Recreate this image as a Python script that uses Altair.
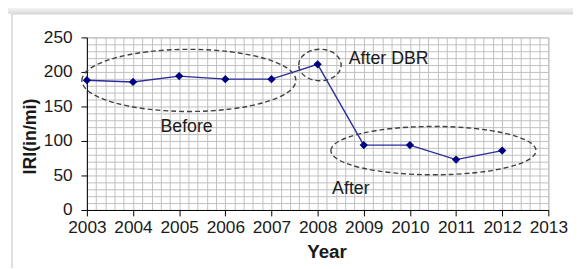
import altair as alt
import pandas as pd

# ---- data ----
years = [2003, 2004, 2005, 2006, 2007, 2008, 2009, 2010, 2011, 2012]
iri = [188, 185.5, 194, 189.5, 189.5, 211, 94, 94, 73, 86]

x_grid = [round(2003 + i * 0.2, 1) for i in range(51)]
y_grid = list(range(0, 251, 10))

note_text = ["Before", "After DBR", "After"]
note_x = [2005.16, 2009.54, 2008.72]
note_y = [119.5, 219, 31]

ell_x = [2005.21, 2008.05, 2010.51]
ell_y = [187.7, 210, 86]

FONT = "Liberation Sans"

df = pd.DataFrame({"year": years, "iri": iri})
notes = pd.DataFrame({"year": note_x, "iri": note_y, "text": note_text})
one = pd.DataFrame({"a": [0]})

xscale = alt.Scale(domain=[2003, 2013], nice=False, zero=False)
yscale = alt.Scale(domain=[0, 250], nice=False, zero=True)

xaxis = alt.Axis(
    values=x_grid,
    labelExpr="datum.value % 1 === 0 ? format(datum.value, 'd') : ''",
    labelOverlap=False, labelFlush=False,
    labelFont=FONT, labelFontSize=17.5, labelColor="#1a1a1a", labelPadding=3,
    tickOpacity=alt.condition("datum.value % 1 === 0", alt.value(1), alt.value(0)),
    tickColor="black", tickSize=6,
    domainColor="black", domainWidth=1,
    grid=True, gridColor="#c0c0c0", gridWidth=1,
    title="Year", titleFont=FONT, titleFontSize=19, titleFontWeight="bold",
    titleColor="#1a1a1a", titleX=243, titleY=33, titleAlign="center", titleBaseline="top",
)
yaxis = alt.Axis(
    values=y_grid,
    labelExpr="datum.value % 50 === 0 ? format(datum.value, 'd') : ''",
    labelOverlap=False, labelFlush=False,
    labelFont=FONT, labelFontSize=17.5, labelColor="#1a1a1a", labelPadding=9,
    tickOpacity=alt.condition("datum.value % 50 === 0", alt.value(1), alt.value(0)),
    tickColor="black", tickSize=6,
    domainColor="black", domainWidth=1,
    grid=True, gridColor="#c0c0c0", gridWidth=1,
    title="IRI(in/mi)", titleFont=FONT, titleFontSize=18, titleFontWeight="bold",
    titleColor="#1a1a1a", titleAngle=270, titleX=-57, titleY=100,
    titleAlign="center", titleBaseline="middle",
)

X = alt.X("year:Q", scale=xscale, axis=xaxis)
Y = alt.Y("iri:Q", scale=yscale, axis=yaxis)

# outer frame of the figure
band = alt.Chart(one).mark_rect(
    fill=alt.LinearGradient(
        gradient="linear", x1=0, y1=0, x2=0, y2=1,
        stops=[alt.GradientStop(color="#f4f4f4", offset=0),
               alt.GradientStop(color="#dcdcdc", offset=1)],
    )
).encode(x=alt.value(-90), x2=alt.value(700), y=alt.value(-30), y2=alt.value(-24))
frame = alt.Chart(one).mark_rect(fillOpacity=0, stroke="#d6d6d6", strokeWidth=1.5).encode(
    x=alt.value(-76), x2=alt.value(700), y=alt.value(-24), y2=alt.value(400)
)

line = alt.Chart(df).mark_line(color="#2b2b9e", strokeWidth=1.4).encode(x=X, y=Y)
pts = alt.Chart(df).mark_point(shape="diamond", filled=True, color="#000080", size=70, opacity=1).encode(x=X, y=Y)


def ellipse(i, a, b):
    r = round(b / a, 4)
    path = f"M -1 0 A 1 {r} 0 1 1 1 0 A 1 {r} 0 1 1 -1 0 Z"
    d = pd.DataFrame({"year": [ell_x[i]], "iri": [ell_y[i]]})
    return alt.Chart(d).mark_point(
        shape=path, size=4 * a * a, filled=False, stroke="#404040",
        strokeWidth=1.4, strokeDash=[5, 3], opacity=1,
    ).encode(x=X, y=Y)


e1 = ellipse(0, 108.5, 31.5)
e2 = ellipse(1, 21.5, 16)
e3 = ellipse(2, 104, 24.5)

txt = alt.Chart(notes).mark_text(
    font=FONT, fontSize=18, color="#1a1a1a", align="center", baseline="middle"
).encode(x=X, y=Y, text="text:N")

chart = alt.layer(line, band, frame, e1, e2, e3, pts, txt).properties(
    width=468, height=175,
    autosize=alt.AutoSizeParams(type="none"),
    padding={"left": 80, "top": 28, "right": 25, "bottom": 57},
).configure_view(stroke="#c0c0c0", strokeWidth=1)

chart.save("out.html", embed_options={"renderer": "svg", "actions": False})
